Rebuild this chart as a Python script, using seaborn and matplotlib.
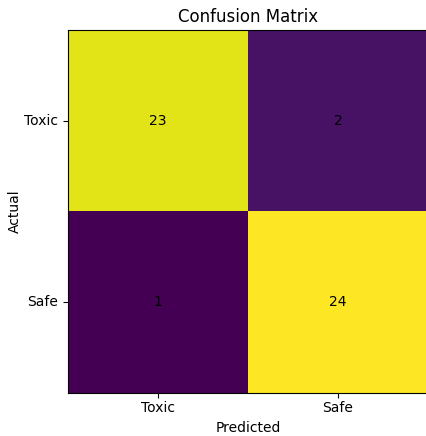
import matplotlib
matplotlib.use("Agg")
import matplotlib.pyplot as plt
import seaborn as sns
import numpy as np
import pandas as pd

labels = ["Toxic", "Safe"]
row_toxic = [23, 2]
row_safe = [1, 24]

cm = pd.DataFrame([row_toxic, row_safe], index=labels, columns=labels)

fig = plt.figure(figsize=(4.26, 4.36), dpi=100)
ax = fig.add_axes([68/426, 43/436, 360/426, 363/436])
sns.heatmap(cm, ax=ax, cmap="viridis", cbar=False, annot=True, fmt="d",
            annot_kws={"color": "black", "fontsize": 10})
for s in ax.spines.values():
    s.set_visible(True)
    s.set_color("black")
    s.set_linewidth(0.8)
ax.tick_params(axis="both", length=3.5, width=0.8, labelsize=10, color="black")
ax.tick_params(axis="x", pad=2)
ax.set_yticklabels(labels, rotation=0)
ax.set_xticklabels(labels, rotation=0)
ax.set_xlabel("Predicted", fontsize=10, labelpad=4.5)
ax.set_ylabel("Actual", fontsize=10, labelpad=2)
ax.set_title("Confusion Matrix", fontsize=12)
fig.savefig("out.png", dpi=100)
